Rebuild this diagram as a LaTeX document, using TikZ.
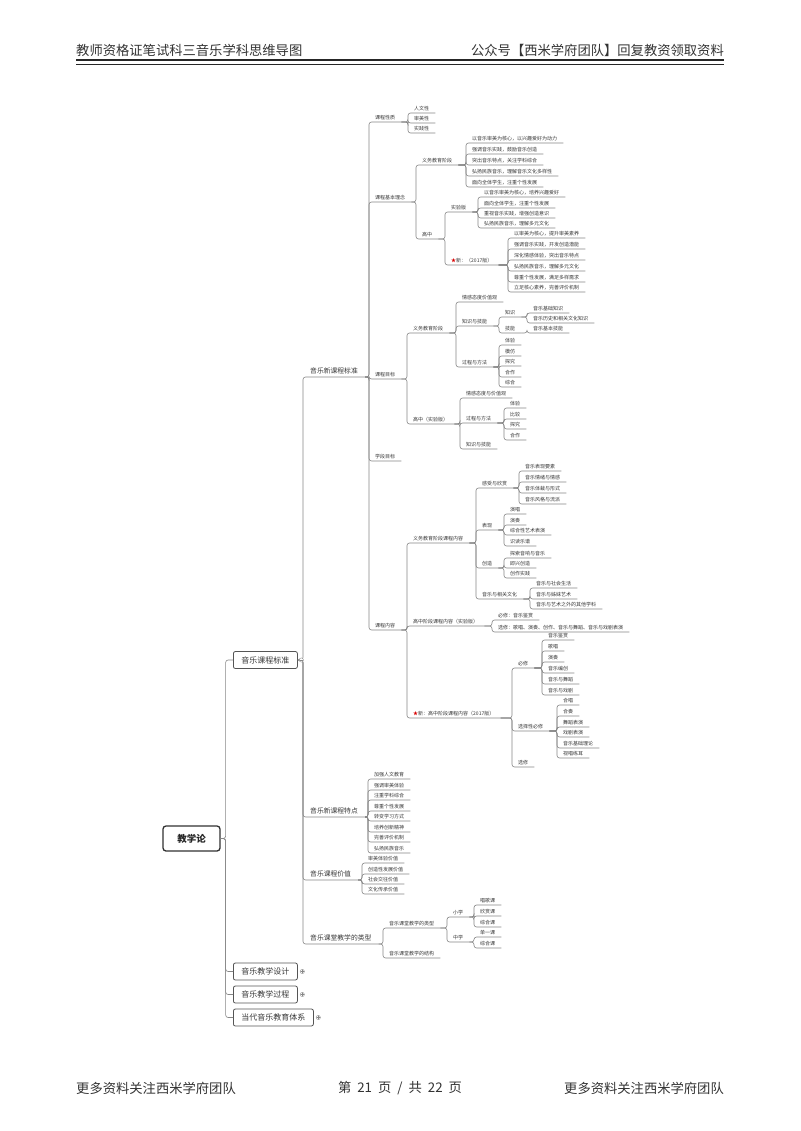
\documentclass[tikz,border=0pt]{standalone}
\usepackage{fontspec}
\setmainfont{Noto Sans CJK SC}
\usetikzlibrary{calc}
\definecolor{ln}{RGB}{135,135,135}
\definecolor{tx}{RGB}{55,55,55}
\definecolor{bx}{RGB}{85,85,85}
\definecolor{rx}{RGB}{50,50,50}
\newcommand\mmc[2]{\draw[lnk] (#1.south east) -| (#2.south west) -- (#2.south east);}
\newcommand\mmb[2]{\draw[lnk] (#1.east) -| (#2.south west) -- (#2.south east);}
\newcommand\rstar{{\color{red!85!black}★}}
\begin{document}
\begin{tikzpicture}[x=1pt,y=-1pt,
  lnk/.style={draw=ln, line width=0.6pt, rounded corners=2.5pt},
  t3/.style={anchor=south west, font=\fontsize{5}{6}\selectfont, text=tx, inner xsep=6pt, inner ysep=2.2pt},
  t2/.style={anchor=south west, font=\fontsize{6.8}{8}\selectfont, text=tx, inner xsep=7pt, inner ysep=2.6pt},
  box/.style={draw=bx, line width=0.8pt, rounded corners=2pt, fill=white, font=\fontsize{8}{9}\selectfont, text=tx, inner xsep=8pt, minimum height=17pt, anchor=west},
  rootbox/.style={draw=rx, line width=1.3pt, rounded corners=3pt, fill=white, font=\fontsize{9.5}{11}\selectfont\bfseries, text=black!85, minimum width=57pt, minimum height=25pt},
  hdr/.style={font=\fontsize{13.3}{15}\selectfont, text=black!80, inner sep=0pt},
  mk/.style={circle, draw=ln, fill=white, line width=0.4pt, inner sep=0pt, minimum size=4.2pt}
]
\fill[white] (0,0) rectangle (800,1131);
\useasboundingbox (0,0) rectangle (800,1131);

% header and footer
\node[hdr, anchor=west] (h1) at (76,50) {教师资格证笔试科三音乐学科思维导图};
\node[hdr, anchor=east] (h2) at (724,50) {公众号【西米学府团队】回复教资领取资料};
\draw[line width=2pt, black!85] (76,60.5) -- (724,60.5);
\draw[line width=0.7pt, black!85] (76,64) -- (724,64);
\node[hdr, anchor=west] (f1) at (76,1088) {更多资料关注西米学府团队};
\node[hdr] (f2) at (400,1088) {第\hspace{6pt}21\hspace{6pt}页\hspace{6pt}/\hspace{6pt}共\hspace{6pt}22\hspace{6pt}页};
\node[hdr, anchor=east] (f3) at (724,1088) {更多资料关注西米学府团队};

% root and level 1
\node[rootbox] (root) at (191.5,838.5) {教学论};
\node[box] (std) at (233,660) {音乐课程标准};
\node[box] (des) at (233,971.5) {音乐教学设计};
\node[box] (pro) at (233,994.5) {音乐教学过程};
\node[box] (sys) at (233,1017.5) {当代音乐教育体系};
\coordinate (rt) at ($(root.east)+(5,0)$);
\foreach \c in {std,des,pro,sys} {\draw[lnk] (root.east) -- (rt) |- (\c.west);}

% level 2
\node[t2] (a) at (303,377) {音乐新课程标准};
\node[t2] (b) at (303,817) {音乐新课程特点};
\node[t2] (c) at (303,880) {音乐课程价值};
\node[t2] (d) at (303,944) {音乐课堂教学的类型};
\foreach \c in {a,b,c,d} {\mmb{std}{\c}}

% markers
\node[mk] (m0) at ($(std.east)+(3.5,0)$) {};
\draw[ln, line width=0.4pt] ($(m0.west)+(0.9,0)$) -- ($(m0.east)+(-0.9,0)$);
\foreach \p/\m in {des/m1,pro/m2,sys/m3} {
  \node[mk] (\m) at ($(\p.east)+(4.5,0)$) {};
  \draw[ln, line width=0.4pt] ($(\m.west)+(0.9,0)$) -- ($(\m.east)+(-0.9,0)$) ($(\m.north)+(0,0.9)$) -- ($(\m.south)+(0,-0.9)$);
}

% ---- 音乐新课程标准
\node[t3] (a1) at (369,122) {课程性质};
\node[t3] (a2) at (369,202) {课程基本理念};
\node[t3] (a3) at (369,379) {课程目标};
\node[t3] (a4) at (369,461) {学段目标};
\node[t3] (a5) at (369,630) {课程内容};
\foreach \c in {a1,a2,a3,a4,a5} {\mmc{a}{\c}}

% 课程性质
\node[t3] (a11) at (408,113) {人文性};
\node[t3] (a12) at (408,123) {审美性};
\node[t3] (a13) at (408,133) {实践性};
\foreach \c in {a11,a12,a13} {\mmc{a1}{\c}}

% 课程基本理念
\node[t3] (a21) at (416,165) {义务教育阶段};
\node[t3] (a22) at (416,239) {高中};
\foreach \c in {a21,a22} {\mmc{a2}{\c}}
\node[t3] (a211) at (466,143) {以音乐审美为核心，以兴趣爱好为动力};
\node[t3] (a212) at (466,154) {强调音乐实践，鼓励音乐创造};
\node[t3] (a213) at (466,165) {突出音乐特点，关注学科综合};
\node[t3] (a214) at (466,176) {弘扬民族音乐，理解音乐文化多样性};
\node[t3] (a215) at (466,187) {面向全体学生，注重个性发展};
\foreach \c in {a211,a212,a213,a214,a215} {\mmc{a21}{\c}}
\node[t3] (a221) at (445,212) {实验版};
\node[t3] (a222) at (445,265) {\rstar 新：（2017版）};
\foreach \c in {a221,a222} {\mmc{a22}{\c}}
\node[t3] (a2211) at (478,197) {以音乐审美为核心，培养兴趣爱好};
\node[t3] (a2212) at (478,208) {面向全体学生，注重个性发展};
\node[t3] (a2213) at (478,218) {重视音乐实践，增强创造意识};
\node[t3] (a2214) at (478,228) {弘扬民族音乐，理解多元文化};
\foreach \c in {a2211,a2212,a2213,a2214} {\mmc{a221}{\c}}
\node[t3] (a2221) at (508,238) {以审美为核心，提升审美素养};
\node[t3] (a2222) at (508,249) {强调音乐实践，开发创造潜能};
\node[t3] (a2223) at (508,260) {深化情感体验，突出音乐特点};
\node[t3] (a2224) at (508,271) {弘扬民族音乐，理解多元文化};
\node[t3] (a2225) at (508,282) {尊重个性发展，满足多样需求};
\node[t3] (a2226) at (508,292) {立足核心素养，完善评价机制};
\foreach \c in {a2221,a2222,a2223,a2224,a2225,a2226} {\mmc{a222}{\c}}

% 课程目标
\node[t3] (a31) at (407,333) {义务教育阶段};
\node[t3] (a32) at (407,424) {高中（实验版）};
\foreach \c in {a31,a32} {\mmc{a3}{\c}}
\node[t3] (a311) at (456,302) {情感态度价值观};
\node[t3] (a312) at (456,326) {知识与技能};
\node[t3] (a313) at (456,367) {过程与方法};
\foreach \c in {a311,a312,a313} {\mmc{a31}{\c}}
\node[t3] (k1) at (499,317) {知识};
\node[t3] (k2) at (499,333) {技能};
\foreach \c in {k1,k2} {\mmc{a312}{\c}}
\node[t3] (k11) at (527,313) {音乐基础知识};
\node[t3] (k12) at (527,323) {音乐历史和相关文化知识};
\foreach \c in {k11,k12} {\mmc{k1}{\c}}
\node[t3] (k21) at (527,333) {音乐基本技能};
\mmc{k2}{k21}
\node[t3] (p1) at (499,345) {体验};
\node[t3] (p2) at (499,356) {模仿};
\node[t3] (p3) at (499,366) {探究};
\node[t3] (p4) at (499,377) {合作};
\node[t3] (p5) at (499,387) {综合};
\foreach \c in {p1,p2,p3,p4,p5} {\mmc{a313}{\c}}
\node[t3] (a321) at (460,398) {情感态度与价值观};
\node[t3] (a322) at (460,423) {过程与方法};
\node[t3] (a323) at (460,449) {知识与技能};
\foreach \c in {a321,a322,a323} {\mmc{a32}{\c}}
\node[t3] (q1) at (504,408) {体验};
\node[t3] (q2) at (504,419) {比较};
\node[t3] (q3) at (504,429) {探究};
\node[t3] (q4) at (504,440) {合作};
\foreach \c in {q1,q2,q3,q4} {\mmc{a322}{\c}}

% 课程内容
\node[t3] (a51) at (407,543) {义务教育阶段课程内容};
\node[t3] (a52) at (407,626) {高中阶段课程内容（实验版）};
\node[t3] (a53) at (407,718) {\rstar 新：高中阶段课程内容（2017版）};
\foreach \c in {a51,a52,a53} {\mmc{a5}{\c}}
\node[t3] (g1) at (476,488) {感受与欣赏};
\node[t3] (g2) at (476,530) {表现};
\node[t3] (g3) at (476,568) {创造};
\node[t3] (g4) at (476,599) {音乐与相关文化};
\foreach \c in {g1,g2,g3,g4} {\mmc{a51}{\c}}
\node[t3] (g11) at (519,471) {音乐表现要素};
\node[t3] (g12) at (519,482) {音乐情绪与情感};
\node[t3] (g13) at (519,493) {音乐体裁与形式};
\node[t3] (g14) at (519,504) {音乐风格与流派};
\foreach \c in {g11,g12,g13,g14} {\mmc{g1}{\c}}
\node[t3] (g21) at (504,514) {演唱};
\node[t3] (g22) at (504,525) {演奏};
\node[t3] (g23) at (504,535) {综合性艺术表演};
\node[t3] (g24) at (504,546) {识读乐谱};
\foreach \c in {g21,g22,g23,g24} {\mmc{g2}{\c}}
\node[t3] (g31) at (504,558) {探索音响与音乐};
\node[t3] (g32) at (504,568) {即兴创造};
\node[t3] (g33) at (504,578) {创作实践};
\foreach \c in {g31,g32,g33} {\mmc{g3}{\c}}
\node[t3] (g41) at (530,588) {音乐与社会生活};
\node[t3] (g42) at (530,599) {音乐与姊妹艺术};
\node[t3] (g43) at (530,609) {音乐与艺术之外的其他学科};
\foreach \c in {g41,g42,g43} {\mmc{g4}{\c}}
\node[t3] (h21) at (492,620) {必修：音乐鉴赏};
\node[t3] (h22) at (492,632) {选修：歌唱、演奏、创作、音乐与舞蹈、音乐与戏剧表演};
\foreach \c in {h21,h22} {\mmc{a52}{\c}}
\node[t3] (n1) at (512,668) {必修};
\node[t3] (n2) at (512,731) {选择性必修};
\node[t3] (n3) at (512,767) {选修};
\foreach \c in {n1,n2,n3} {\mmc{a53}{\c}}
\node[t3] (n11) at (542,640) {音乐鉴赏};
\node[t3] (n12) at (542,651) {歌唱};
\node[t3] (n13) at (542,662) {演奏};
\node[t3] (n14) at (542,673) {音乐编创};
\node[t3] (n15) at (542,684) {音乐与舞蹈};
\node[t3] (n16) at (542,695) {音乐与戏剧};
\foreach \c in {n11,n12,n13,n14,n15,n16} {\mmc{n1}{\c}}
\node[t3] (n21) at (557,705) {合唱};
\node[t3] (n22) at (557,716) {合奏};
\node[t3] (n23) at (557,727) {舞蹈表演};
\node[t3] (n24) at (557,737) {戏剧表演};
\node[t3] (n25) at (557,748) {音乐基础理论};
\node[t3] (n26) at (557,758) {视唱练耳};
\foreach \c in {n21,n22,n23,n24,n25,n26} {\mmc{n2}{\c}}

% ---- 音乐新课程特点
\node[t3] (b1) at (368,779) {加强人文教育};
\node[t3] (b2) at (368,790) {强调审美体验};
\node[t3] (b3) at (368,800) {注重学科综合};
\node[t3] (b4) at (368,811) {尊重个性发展};
\node[t3] (b5) at (368,821) {转变学习方式};
\node[t3] (b6) at (368,832) {培养创新精神};
\node[t3] (b7) at (368,842) {完善评价机制};
\node[t3] (b8) at (368,853) {弘扬民族音乐};
\foreach \c in {b1,b2,b3,b4,b5,b6,b7,b8} {\mmc{b}{\c}}

% ---- 音乐课程价值
\node[t3] (c1) at (362,863) {审美体验价值};
\node[t3] (c2) at (362,874) {创造性发展价值};
\node[t3] (c3) at (362,884) {社会交往价值};
\node[t3] (c4) at (362,894) {文化传承价值};
\foreach \c in {c1,c2,c3,c4} {\mmc{c}{\c}}

% ---- 音乐课堂教学的类型
\node[t3] (d1) at (383,928) {音乐课堂教学的类型};
\node[t3] (d2) at (383,958) {音乐课堂教学的结构};
\foreach \c in {d1,d2} {\mmc{d}{\c}}
\node[t3] (d11) at (447,917) {小学};
\node[t3] (d12) at (447,942) {中学};
\foreach \c in {d11,d12} {\mmc{d1}{\c}}
\node[t3] (e1) at (474,905) {唱歌课};
\node[t3] (e2) at (474,916) {欣赏课};
\node[t3] (e3) at (474,927) {综合课};
\foreach \c in {e1,e2,e3} {\mmc{d11}{\c}}
\node[t3] (e4) at (474,937) {单一课};
\node[t3] (e5) at (474,948) {综合课};
\foreach \c in {e4,e5} {\mmc{d12}{\c}}
\end{tikzpicture}
\end{document}
